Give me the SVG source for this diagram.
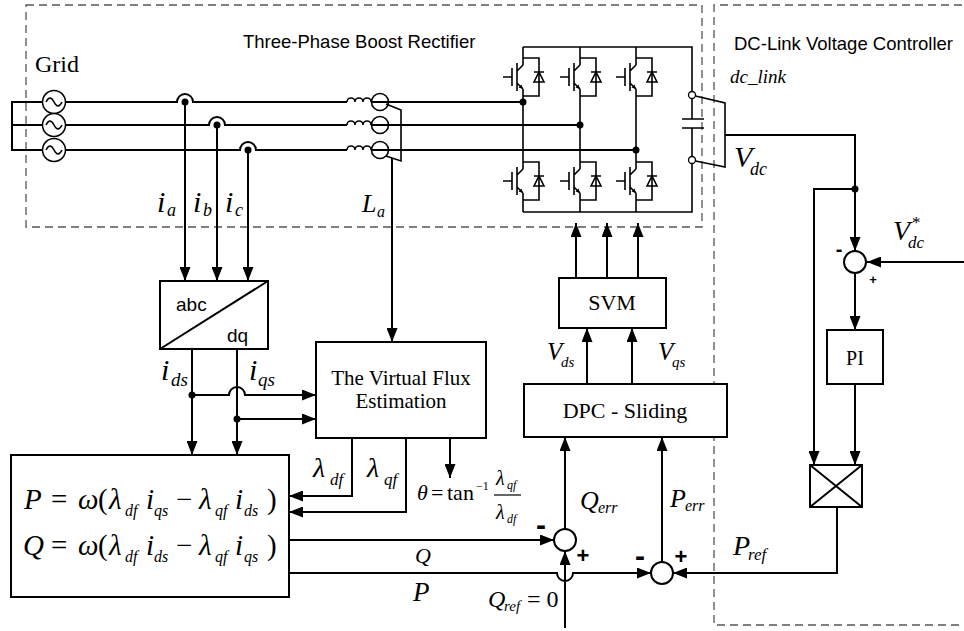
<svg xmlns="http://www.w3.org/2000/svg" width="964" height="631" viewBox="0 0 964 631">
<style>
.w{fill:none;stroke:#000;stroke-width:2}
.t{fill:none;stroke:#000;stroke-width:1.6}
.box{fill:#fff;stroke:#000;stroke-width:2}
.dash{fill:none;stroke:#555;stroke-width:1.3;stroke-dasharray:8 5}
.dot{fill:#000}
.sans{font-family:"Liberation Sans",Arial,sans-serif;fill:#000}
.ser{font-family:"Liberation Serif","Times New Roman",serif;fill:#000}
.it{font-style:italic}
.arr{marker-end:url(#ah)}
.sum{fill:#fff;stroke:#000;stroke-width:2}
</style>
<defs>
<marker id="ah" viewBox="0 0 14 11" refX="14" refY="5.5" markerWidth="14" markerHeight="11" markerUnits="userSpaceOnUse" orient="auto"><path d="M0,0 L14,5.5 L0,11 z" fill="#000"/></marker>
<g id="igbt">
<path class="t" d="M0,-12 L-6,-6 M-6,6 L0,12 M-6,-14 V14 M-11,-9 V9 M-20,0 H-11 M0,-19 H16 V19 H0 M11,-5 H21"/>
<path d="M11,5 L21,5 L16,-5 Z" fill="none" stroke="#000" stroke-width="1.6"/>
<path d="M0,12 L-4.5,10.5 L-1.5,7.5 Z" fill="#000"/>
</g>
<g id="src"><circle r="11.5" fill="#fff" stroke="#000" stroke-width="1.5"/><path d="M-8,0 Q-4,-8 0,0 T8,0" fill="none" stroke="#000" stroke-width="1.5"/></g>
<g id="ind"><path class="t" d="M-33,0 a4,4 0 0 1 8,0 a4,4 0 0 1 8,0 a4,4 0 0 1 8,0"/><circle r="8.5" fill="none" stroke="#000" stroke-width="1.6"/></g>
</defs>
<rect width="964" height="631" fill="#fff"/>

<g id="regions">
<rect class="dash" x="26" y="5" width="676" height="222"/>
<path class="dash" d="M962,5 H714 V625 H962"/>
<text class="sans" x="243" y="48" font-size="18.5">Three-Phase Boost Rectifier</text>
<text class="sans" x="734" y="50" font-size="18.5">DC-Link Voltage Controller</text>
</g>

<g id="connectors">
<path class="w" d="M66,102 H177 A8,8 0 0 1 193,102 H347 M371,102 H523"/>
<path class="w" d="M66,125 H209 A8,8 0 0 1 225,125 H347 M371,125 H580"/>
<path class="w" d="M66,150 H240 A8,8 0 0 1 256,150 H347 M371,150 H636"/>
<path class="w arr" d="M185,102 V281"/>
<path class="w arr" d="M217,125 V281"/>
<path class="w arr" d="M248,150 V281"/>
<path class="w arr" d="M392,158 V342"/>
<path class="w arr" d="M192,349 V455"/>
<path class="w arr" d="M237,349 V455"/>
<path class="w arr" d="M192,395 H229 A8,8 0 0 1 245,395 H316"/>
<path class="w arr" d="M237,419 H316"/>
<path class="w arr" d="M352,438 V496 H289"/>
<path class="w arr" d="M406,438 V512 H289"/>
<path class="w arr" d="M450,438 V478"/>
<path class="w arr" d="M289,540 H554"/>
<path class="w arr" d="M289,573 H557 A8,8 0 0 0 573,573 H651"/>
<path class="w arr" d="M565,628 V551"/>
<path class="w arr" d="M565,529 V437"/>
<path class="w arr" d="M662,562 V437"/>
<path class="w arr" d="M587,384 V328"/>
<path class="w arr" d="M632,384 V328"/>
<path class="w arr" d="M576,278 V223"/>
<path class="w arr" d="M607,278 V223"/>
<path class="w arr" d="M638,278 V223"/>
<path class="w arr" d="M725,135 H855 V251"/>
<path class="w arr" d="M855,189 H814 V465"/>
<path class="w arr" d="M964,262 H867"/>
<path class="w arr" d="M855,273 V330"/>
<path class="w arr" d="M855,384 V465"/>
<path class="w arr" d="M837,507 V573 H673"/>
<circle class="dot" cx="185" cy="102" r="3.5"/>
<circle class="dot" cx="217" cy="125" r="3.5"/>
<circle class="dot" cx="248" cy="150" r="3.5"/>
<circle class="dot" cx="523" cy="102" r="3.5"/>
<circle class="dot" cx="580" cy="125" r="3.5"/>
<circle class="dot" cx="636" cy="150" r="3.5"/>
<circle class="dot" cx="192" cy="395" r="3.5"/>
<circle class="dot" cx="237" cy="419" r="3.5"/>
<circle class="dot" cx="855" cy="189" r="3.5"/>
</g>

<g id="grid">
<path class="w" d="M42.5,102 H12 V150 H42.5 M12,125 H42.5"/>
<use href="#src" x="54" y="102"/>
<use href="#src" x="54" y="125"/>
<use href="#src" x="54" y="150"/>
<text class="ser" x="35" y="72" font-size="24">Grid</text>
</g>

<g id="inductors">
<use href="#ind" x="380" y="102"/>
<use href="#ind" x="380" y="125"/>
<use href="#ind" x="380" y="150"/>
<path class="t" d="M386,104 L401,110 V161 L386,156"/>
<text class="ser it" x="362" y="212" font-size="26">L<tspan x="377" y="217" font-size="16">a</tspan></text>
</g>

<g id="bridge">
<path class="t" d="M523,47 H692 V91.5 M692,98.5 V119 M682,119 H704 M682,128 H704 M692,128 V156.5 M692,163.5 V212 H523"/>
<path class="t" d="M523,47 V65 M523,89 V169 M523,193 V212 M580,47 V65 M580,89 V169 M580,193 V212 M636,47 V65 M636,89 V169 M636,193 V212"/>
<use href="#igbt" x="523" y="77"/>
<use href="#igbt" x="580" y="77"/>
<use href="#igbt" x="636" y="77"/>
<use href="#igbt" x="523" y="181"/>
<use href="#igbt" x="580" y="181"/>
<use href="#igbt" x="636" y="181"/>
<circle cx="692" cy="95" r="3.5" fill="#fff" stroke="#000" stroke-width="1.3"/>
<circle cx="692" cy="160" r="3.5" fill="#fff" stroke="#000" stroke-width="1.3"/>
<path class="t" d="M695.5,96 L725,103 V167 L695.5,161"/>
<text class="ser it" x="730" y="83" font-size="19">dc_link</text>
<text class="ser it" x="734" y="167" font-size="30">V<tspan x="750" y="175" font-size="18">dc</tspan></text>
</g>

<g id="current-labels">
<text class="ser it" x="157" y="212" font-size="30">i<tspan x="167" y="216" font-size="18">a</tspan></text>
<text class="ser it" x="193" y="212" font-size="30">i<tspan x="203" y="216" font-size="18">b</tspan></text>
<text class="ser it" x="225" y="212" font-size="30">i<tspan x="235" y="216" font-size="18">c</tspan></text>
</g>

<g id="abc-dq">
<rect class="box" x="160" y="281" width="108" height="68"/>
<path class="w" d="M160,349 L268,281"/>
<text class="sans" x="176" y="311" font-size="19">abc</text>
<text class="sans" x="227" y="342" font-size="19">dq</text>
<text class="ser it" x="161" y="380" font-size="30">i<tspan x="171" y="386" font-size="19">ds</tspan></text>
<text class="ser it" x="249" y="380" font-size="30">i<tspan x="258" y="386" font-size="19">qs</tspan></text>
</g>

<g id="virtual-flux">
<rect class="box" x="316" y="342" width="170" height="96"/>
<text class="ser" x="401" y="385" font-size="21" text-anchor="middle">The Virtual Flux</text>
<text class="ser" x="401" y="408" font-size="21" text-anchor="middle">Estimation</text>
<text class="ser it" x="313" y="477" font-size="28">λ<tspan x="330" y="485" font-size="17">df</tspan></text>
<text class="ser it" x="367" y="477" font-size="28">λ<tspan x="384" y="485" font-size="17">qf</tspan></text>
<text class="ser" y="500" font-size="22"><tspan x="417" font-style="italic">θ</tspan><tspan x="431">=</tspan><tspan x="447">tan</tspan><tspan x="476" y="490" font-size="12">−1</tspan></text>
<text class="ser it" x="496" y="485" font-size="20">λ<tspan x="507" y="489" font-size="12">qf</tspan></text>
<path d="M494,495 H521" stroke="#000" stroke-width="1.2"/>
<text class="ser it" x="496" y="519" font-size="20">λ<tspan x="507" y="523" font-size="12">df</tspan></text>
</g>

<g id="pq-calc">
<rect class="box" x="11" y="455" width="278" height="142"/>
<text class="ser" y="509" font-size="29"><tspan x="24" font-style="italic">P</tspan><tspan x="51">=</tspan><tspan x="78" font-style="italic">ω</tspan><tspan x="98">(</tspan><tspan x="109" font-style="italic">λ</tspan><tspan x="125" y="516" font-size="16" font-style="italic">df</tspan><tspan x="146" y="509" font-style="italic">i</tspan><tspan x="154" y="516" font-size="16" font-style="italic">qs</tspan><tspan x="176" y="509">−</tspan><tspan x="199" font-style="italic">λ</tspan><tspan x="215" y="516" font-size="16" font-style="italic">qf</tspan><tspan x="235" y="509" font-style="italic">i</tspan><tspan x="244" y="516" font-size="16" font-style="italic">ds</tspan><tspan x="267" y="509">)</tspan></text>
<text class="ser" y="555" font-size="29"><tspan x="23" font-style="italic">Q</tspan><tspan x="51">=</tspan><tspan x="78" font-style="italic">ω</tspan><tspan x="98">(</tspan><tspan x="109" font-style="italic">λ</tspan><tspan x="125" y="562" font-size="16" font-style="italic">df</tspan><tspan x="146" y="555" font-style="italic">i</tspan><tspan x="154" y="562" font-size="16" font-style="italic">ds</tspan><tspan x="176" y="555">−</tspan><tspan x="199" font-style="italic">λ</tspan><tspan x="215" y="562" font-size="16" font-style="italic">qf</tspan><tspan x="235" y="555" font-style="italic">i</tspan><tspan x="244" y="562" font-size="16" font-style="italic">qs</tspan><tspan x="267" y="555">)</tspan></text>
<text class="ser it" x="415" y="563" font-size="22">Q</text>
<text class="ser it" x="413" y="601" font-size="27">P</text>
</g>

<g id="svm">
<rect class="box" x="559" y="278" width="107" height="50"/>
<text class="ser" x="612" y="310" font-size="22" text-anchor="middle">SVM</text>
<text class="ser it" x="547" y="360" font-size="25">V<tspan x="561" y="367" font-size="15">ds</tspan></text>
<text class="ser it" x="658" y="360" font-size="25">V<tspan x="672" y="367" font-size="15">qs</tspan></text>
</g>

<g id="dpc">
<rect class="box" x="524" y="384" width="203" height="53"/>
<text class="ser" x="625" y="418" font-size="22" text-anchor="middle">DPC - Sliding</text>
</g>

<g id="sum-q">
<circle class="sum" cx="565" cy="540" r="11"/>
<text class="sans" x="541" y="535" font-size="30" font-weight="bold" text-anchor="middle">-</text>
<text class="sans" x="583" y="563" font-size="22" font-weight="bold" text-anchor="middle">+</text>
<text class="ser it" x="580" y="509" font-size="26">Q<tspan x="598" y="513" font-size="16">err</tspan></text>
<text class="ser it" x="488" y="607" font-size="24">Q<tspan x="504" y="611" font-size="15">ref</tspan><tspan x="527" y="607" font-style="normal">= 0</tspan></text>
</g>

<g id="sum-p">
<circle class="sum" cx="662" cy="573" r="11"/>
<text class="sans" x="640" y="566" font-size="30" font-weight="bold" text-anchor="middle">-</text>
<text class="sans" x="681" y="564" font-size="22" font-weight="bold" text-anchor="middle">+</text>
<text class="ser it" x="670" y="507" font-size="26">P<tspan x="685" y="511" font-size="16">err</tspan></text>
<text class="ser it" x="733" y="555" font-size="28">P<tspan x="748" y="560" font-size="17">ref</tspan></text>
</g>

<g id="sum-vdc">
<circle class="sum" cx="855" cy="262" r="11"/>
<text class="sans" x="839" y="256" font-size="20" font-weight="bold" text-anchor="middle">-</text>
<text class="sans" x="873" y="284" font-size="13" font-weight="bold" text-anchor="middle">+</text>
<text class="ser it" x="893" y="240" font-size="28">V<tspan x="908" y="248" font-size="17">dc</tspan><tspan x="912" y="228" font-size="17" font-style="normal">*</tspan></text>
</g>

<g id="pi">
<rect class="box" x="827" y="330" width="56" height="54"/>
<text class="ser" x="855" y="365" font-size="20" text-anchor="middle">PI</text>
</g>

<g id="multiplier">
<rect class="box" x="810" y="465" width="52" height="42"/>
<path class="w" d="M810,465 L862,507 M862,465 L810,507"/>
</g>
</svg>
